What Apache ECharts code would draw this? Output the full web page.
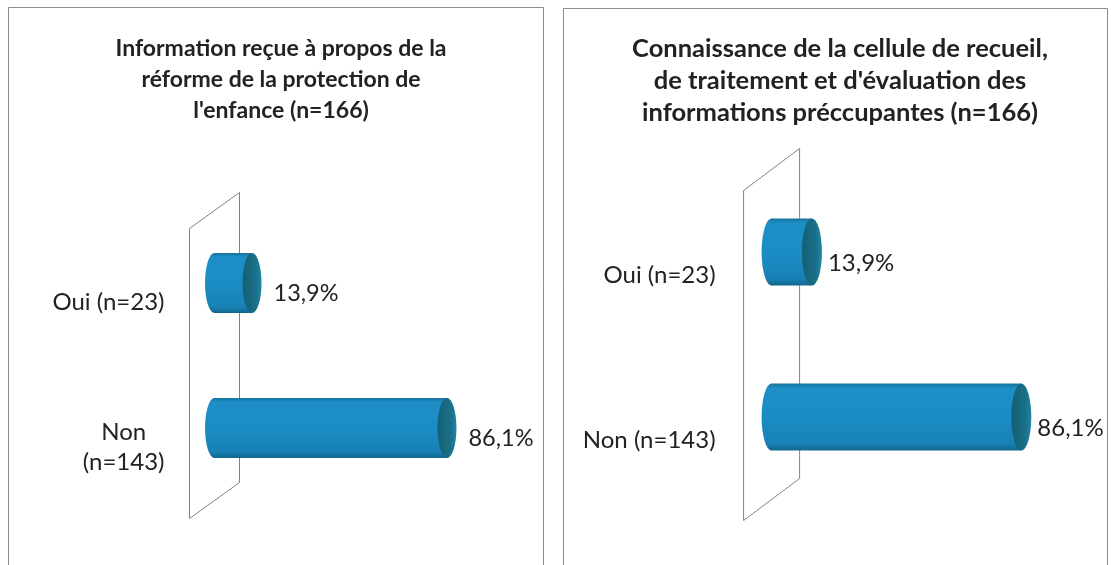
<!DOCTYPE html>
<html>
<head>
<meta charset="utf-8">
<script src="https://cdn.jsdelivr.net/npm/echarts@6/dist/echarts.min.js"></script>
<style>
html, body { margin: 0; padding: 0; background: #fff; }
#chart { width: 1111px; height: 565px; }
</style>
</head>
<body>
<div id="chart"></div>
<script>
// data
const leftTitle = "Information reçue à propos de la\nréforme de la protection de\nl'enfance (n=166)";
const rightTitle = "Connaissance de la cellule de recueil,\nde traitement et d'évaluation des\ninformations préccupantes (n=166)";
const leftCategories = ['Oui (n=23)', 'Non\n(n=143)'];
const rightCategories = ['Oui (n=23)', 'Non (n=143)'];
const leftValues = [13.9, 86.1];
const rightValues = [13.9, 86.1];

const FONT = 'Lato, "Open Sans", sans-serif';
const TEXT = '#222';

const bodyGrad = new echarts.graphic.LinearGradient(0, 0, 0, 1, [
  {offset: 0, color: '#16729c'},
  {offset: 0.07, color: '#1d8fc6'},
  {offset: 0.5, color: '#1b8dc5'},
  {offset: 0.9, color: '#1781b5'},
  {offset: 1, color: '#12668c'}
]);
const capGrad = new echarts.graphic.LinearGradient(0, 0, 1, 0, [
  {offset: 0, color: '#155f73'},
  {offset: 0.7, color: '#1a7089'},
  {offset: 1, color: '#2085a2'}
]);

function fmt(v) {
  return v.toFixed(1).replace('.', ',') + '%';
}

function cylinders(idx, values, o) {
  return {
    type: 'custom',
    xAxisIndex: idx,
    yAxisIndex: idx,
    z: 3,
    data: values.map((v, i) => [v, i]),
    encode: {x: 0, y: 1},
    renderItem: (params, api) => {
      const val = api.value(0);
      const cat = api.value(1);
      const p0 = api.coord([0, cat]);
      const p1 = api.coord([val, cat]);
      const ry = o.thick / 2;
      const sx = o.rx / ry;
      const cy = p0[1];
      return {
        type: 'group',
        children: [
          {type: 'circle', x: p0[0], y: cy, scaleX: sx, shape: {cx: 0, cy: 0, r: ry}, style: {fill: bodyGrad}},
          {type: 'rect', shape: {x: p0[0], y: cy - ry, width: p1[0] - p0[0], height: o.thick}, style: {fill: bodyGrad}},
          {type: 'circle', x: p1[0], y: cy, scaleX: sx, shape: {cx: 0, cy: 0, r: ry}, style: {fill: capGrad}},
          {type: 'text', x: p1[0] + o.rx + o.gap, y: cy + o.labelDy,
            style: {text: fmt(val), fill: TEXT, font: o.fontSize + 'px ' + FONT, verticalAlign: 'middle'}}
        ]
      };
    }
  };
}

// the grey back wall, anchored on the zero of the value axis
function wall(idx, o) {
  return {
    type: 'custom',
    xAxisIndex: idx,
    yAxisIndex: idx,
    z: 1,
    silent: true,
    data: [[0, 0]],
    encode: {x: 0, y: 1},
    renderItem: (params, api) => {
      const cs = params.coordSys;
      const x0 = api.coord([0, 0])[0];
      const top = cs.y, bot = cs.y + cs.height;
      return {
        type: 'polygon',
        shape: {points: [
          [x0 - o.dx, top + o.dy], [x0 + o.dx, top - o.dy],
          [x0 + o.dx, bot - o.dy], [x0 - o.dx, bot + o.dy]
        ]},
        style: {fill: 'none', stroke: '#808080', lineWidth: 1}
      };
    }
  };
}

function catAxis(idx, cats, margin, pad, size) {
  return {
    type: 'category',
    gridIndex: idx,
    inverse: true,
    data: cats,
    axisLine: {show: false},
    axisTick: {show: false},
    splitLine: {show: false},
    axisLabel: {
      margin: margin,
      padding: [pad, 0, 0, 0],
      formatter: v => v.split('\n').map(s => '{c|' + s + '}').join('\n'),
      rich: {c: {align: 'center', fontSize: size, fontFamily: FONT, color: TEXT, lineHeight: 30}}
    }
  };
}

function valAxis(idx) {
  return {
    type: 'value',
    gridIndex: idx,
    min: 0,
    max: 100,
    show: false
  };
}

const chart = echarts.init(document.getElementById('chart'));
chart.setOption({
  animation: false,
  title: [
    {text: leftTitle, left: 276, top: 28, textAlign: 'center',
      textStyle: {fontFamily: FONT, fontSize: 23, fontWeight: 'bold', color: TEXT, lineHeight: 31}},
    {text: rightTitle, left: 835, top: 28, textAlign: 'center',
      textStyle: {fontFamily: FONT, fontSize: 25.5, fontWeight: 'bold', color: TEXT, lineHeight: 32}}
  ],
  graphic: [
    {type: 'rect', shape: {x: 8.5, y: 7.5, width: 535, height: 600}, style: {fill: 'none', stroke: '#8c8c8c', lineWidth: 1}},
    {type: 'rect', shape: {x: 563.5, y: 8.5, width: 544, height: 600}, style: {fill: 'none', stroke: '#8c8c8c', lineWidth: 1}}
  ],
  grid: [
    {left: 214.5, top: 210.5, width: 270, height: 290},
    {left: 771.6, top: 169.5, width: 290, height: 330}
  ],
  xAxis: [valAxis(0), valAxis(1)],
  yAxis: [catAxis(0, leftCategories, 50, 38, 24), catAxis(1, rightCategories, 56, 46, 24)],
  series: [
    wall(0, {dx: 25, dy: 18}),
    wall(1, {dx: 28, dy: 21}),
    cylinders(0, leftValues, {thick: 60, rx: 9.5, gap: 12, labelDy: 10, fontSize: 23.5}),
    cylinders(1, rightValues, {thick: 67, rx: 10, gap: 6, labelDy: 11, fontSize: 24})
  ]
});
</script>
</body>
</html>
